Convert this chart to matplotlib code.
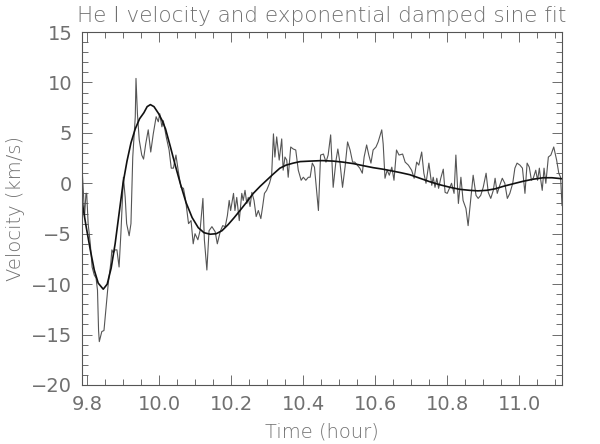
import numpy as np
import matplotlib as mpl
mpl.use("Agg")
import matplotlib.pyplot as plt
from matplotlib.ticker import MultipleLocator

# He I velocity (time in hours, velocity in km/s)
time_obs = [9.785, 9.789, 9.792, 9.796, 9.798, 9.802, 9.808, 9.813, 9.819, 9.824,
            9.828, 9.831, 9.833, 9.840, 9.846, 9.852, 9.858, 9.865, 9.868, 9.872,
            9.877, 9.882, 9.888, 9.893, 9.900, 9.905, 9.909, 9.916, 9.921, 9.926,
            9.933, 9.935, 9.939, 9.944, 9.951, 9.956, 9.962, 9.969, 9.976, 9.983,
            9.991, 9.997, 10.001, 10.007, 10.011, 10.019, 10.027, 10.033, 10.039, 10.046,
            10.053, 10.060, 10.067, 10.073, 10.081, 10.088, 10.094, 10.099, 10.107, 10.113,
            10.121, 10.125, 10.132, 10.138, 10.146, 10.155, 10.161, 10.169, 10.176, 10.183,
            10.189, 10.194, 10.198, 10.206, 10.210, 10.215, 10.222, 10.229, 10.233, 10.238,
            10.243, 10.247, 10.252, 10.257, 10.263, 10.269, 10.275, 10.282, 10.287, 10.292,
            10.298, 10.306, 10.312, 10.317, 10.321, 10.326, 10.333, 10.340, 10.344, 10.349,
            10.354, 10.358, 10.365, 10.372, 10.379, 10.386, 10.394, 10.400, 10.407, 10.414,
            10.419, 10.425, 10.431, 10.442, 10.448, 10.456, 10.463, 10.469, 10.476, 10.483,
            10.491, 10.496, 10.502, 10.509, 10.516, 10.523, 10.530, 10.537, 10.543, 10.550,
            10.557, 10.564, 10.569, 10.576, 10.582, 10.588, 10.594, 10.602, 10.608, 10.618,
            10.622, 10.627, 10.633, 10.639, 10.646, 10.652, 10.659, 10.666, 10.676, 10.683,
            10.692, 10.701, 10.708, 10.715, 10.721, 10.729, 10.735, 10.741, 10.749, 10.757,
            10.761, 10.766, 10.771, 10.776, 10.782, 10.789, 10.794, 10.800, 10.806, 10.812,
            10.819, 10.824, 10.831, 10.838, 10.844, 10.852, 10.858, 10.865, 10.872, 10.880,
            10.886, 10.893, 10.900, 10.908, 10.914, 10.921, 10.928, 10.933, 10.939, 10.946,
            10.953, 10.960, 10.967, 10.974, 10.982, 10.988, 10.994, 11.002, 11.009, 11.016,
            11.022, 11.028, 11.034, 11.039, 11.046, 11.051, 11.056, 11.060, 11.064, 11.069,
            11.074, 11.081, 11.088, 11.096, 11.104, 11.110, 11.115, 11.119]
vel_obs = [1.6, -1.0, -3.3, -1.0, -1.0, -4.0, -6.0, -8.3, -9.1, -9.4,
           -10.6, -14.6, -15.7, -14.7, -14.6, -12.3, -9.9, -7.9, -6.6, -6.9,
           -6.6, -6.6, -8.3, -5.0, 0.6, -1.4, -4.0, -5.2, -4.0, 2.6,
           6.6, 10.4, 6.9, 4.3, 2.8, 2.4, 3.9, 5.3, 3.1, 4.9,
           6.6, 6.1, 6.9, 5.6, 6.2, 4.6, 3.3, 1.5, 1.5, 2.8,
           1.1, -0.4, -0.5, -1.7, -4.0, -3.7, -6.0, -5.0, -5.6, -4.7,
           -1.5, -5.6, -8.6, -4.7, -4.3, -4.8, -6.0, -4.8, -4.2, -4.3,
           -3.2, -1.7, -2.7, -1.0, -2.7, -1.4, -3.7, -1.0, -1.7, -0.7,
           -2.0, -1.4, -2.3, -0.9, -1.7, -3.3, -2.7, -3.5, -2.3, -1.0,
           -0.7, 0.0, 0.8, 4.9, 2.6, 4.6, 2.3, 4.4, 1.3, 2.6,
           2.3, 0.6, 3.6, 3.4, 3.3, 1.3, 0.3, 0.6, 0.3, 0.6,
           0.6, 2.0, 1.6, -2.7, 2.8, 2.9, 2.1, 2.8, 4.8, -0.4,
           2.3, 3.4, 2.0, -0.4, 1.6, 4.1, 3.3, 2.1, 2.1, 1.8,
           1.5, 1.0, 2.6, 3.8, 2.8, 2.0, 3.3, 3.6, 4.1, 5.3,
           3.9, 0.5, 1.3, 0.8, 1.6, 0.3, 3.3, 2.8, 2.9, 2.1,
           1.8, 1.3, 0.5, 2.1, 1.8, 3.1, 1.0, 0.0, 2.0, -0.2,
           0.6, -0.4, 0.5, -0.5, 0.5, 1.4, -0.9, -1.0, -0.5, 0.0,
           -1.0, 2.8, -2.0, 0.6, -1.7, -2.5, -4.2, -1.7, 0.8, -1.2,
           -1.5, -1.2, -0.4, 1.0, -0.9, -1.5, -0.7, 0.5, -1.0, -0.2,
           0.5, 0.0, -1.5, -1.0, 0.0, 1.5, 2.0, 1.8, 1.5, -1.0,
           2.0, 1.6, 0.3, 0.5, 1.3, 0.3, 1.5, 0.3, -0.7, 1.5,
           0.0, 2.6, 2.8, 3.6, 2.3, 1.0, 0.6, -2.2]

# exponential damped sine fit
time_fit = [9.785, 9.796, 9.808, 9.819, 9.830, 9.844, 9.855, 9.866, 9.877, 9.888,
            9.899, 9.910, 9.921, 9.933, 9.945, 9.957, 9.966, 9.975, 9.985, 9.998,
            10.008, 10.017, 10.030, 10.044, 10.058, 10.074, 10.091, 10.108, 10.124, 10.141,
            10.158, 10.174, 10.191, 10.208, 10.224, 10.244, 10.261, 10.280, 10.298, 10.316,
            10.335, 10.352, 10.372, 10.391, 10.419, 10.452, 10.483, 10.510, 10.539, 10.566,
            10.594, 10.621, 10.650, 10.671, 10.696, 10.724, 10.752, 10.780, 10.808, 10.835,
            10.863, 10.885, 10.909, 10.933, 10.956, 10.983, 11.011, 11.038, 11.067, 11.091,
            11.119]
vel_fit = [-1.8, -4.2, -6.6, -8.6, -9.9, -10.5, -10.0, -8.4, -6.0, -3.0,
           0.0, 2.2, 4.0, 5.4, 6.4, 7.0, 7.6, 7.8, 7.6, 6.9,
           6.2, 5.4, 3.7, 1.8, 0.0, -1.9, -3.4, -4.4, -4.9, -5.05,
           -5.0, -4.7, -4.1, -3.4, -2.7, -1.8, -1.0, -0.3, 0.3, 0.9,
           1.5, 1.8, 2.0, 2.15, 2.2, 2.25, 2.2, 2.1, 1.95, 1.75,
           1.55, 1.4, 1.2, 1.05, 0.85, 0.5, 0.15, -0.15, -0.4, -0.6,
           -0.7, -0.75, -0.7, -0.55, -0.3, -0.05, 0.2, 0.4, 0.55, 0.55,
           0.45]

txt = "#707070"
plt.rcParams["font.family"] = ["DejaVu Sans"]

fig = plt.figure(figsize=(6.0, 4.44), dpi=100)
ax = fig.add_axes([0.1367, 0.1329, 0.80, 0.795])

ax.plot(time_obs, vel_obs, color="#555555", lw=0.8)
ax.plot(time_fit, vel_fit, color="#111111", lw=1.2)

ax.set_xlim(9.785, 11.119)
ax.set_ylim(-20, 15)
ax.xaxis.set_major_locator(MultipleLocator(0.2))
ax.xaxis.set_minor_locator(MultipleLocator(0.05))
ax.yaxis.set_major_locator(MultipleLocator(5))
ax.yaxis.set_minor_locator(MultipleLocator(1))
ax.xaxis.set_major_formatter(mpl.ticker.FormatStrFormatter("%.1f"))
ax.yaxis.set_major_formatter(mpl.ticker.FuncFormatter(lambda v, p: f"{v:.0f}".replace("-", "\u2212")))

ax.tick_params(which="both", direction="in", top=True, right=True, colors="#555555",
               labelcolor=txt, labelsize=14, width=0.6)
ax.tick_params(which="major", length=7, pad=7)
ax.tick_params(which="minor", length=4)
for s in ax.spines.values():
    s.set_color("#555555")
    s.set_linewidth(0.8)

ax.set_title("He I velocity and exponential damped sine fit", color=txt, fontsize=15.5,
             fontweight="light", pad=7)
ax.set_xlabel("Time (hour)", color=txt, fontsize=14, fontweight="light", labelpad=6)
ax.set_ylabel("Velocity (km/s)", color=txt, fontsize=14, fontweight="light", labelpad=4)

fig.savefig("out.png", dpi=100)
